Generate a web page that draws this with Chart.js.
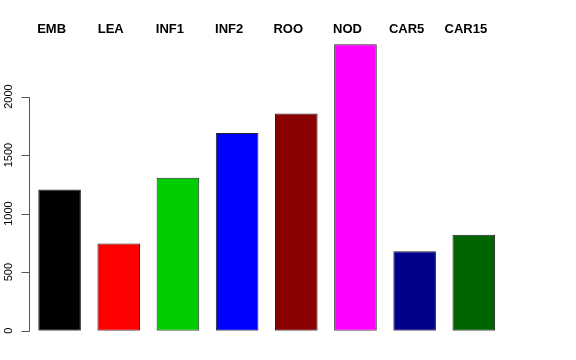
<!DOCTYPE html>
<html>
<head>
<meta charset="utf-8">
<script src="https://cdn.jsdelivr.net/npm/chart.js@4/dist/chart.umd.min.js"></script>
<style>
  html, body { margin: 0; padding: 0; background: #ffffff; }
  #wrap { width: 576px; height: 360px; position: relative; }
</style>
</head>
<body>
<div id="wrap"><canvas id="c" width="576" height="360"></canvas></div>
<script>
const categories = ["EMB", "LEA", "INF1", "INF2", "ROO", "NOD", "CAR5", "CAR15"];
const values = [1206, 744, 1306, 1689, 1855, 2446, 678, 820];
const barColors = ["#000000", "#FF0000", "#00CD00", "#0000FF", "#8B0000", "#FF00FF", "#00008B", "#006400"];
const yTicks = [0, 500, 1000, 1500, 2000];

const rAxisPlugin = {
  id: 'rAxis',
  afterDraw(chart) {
    const ctx = chart.ctx;
    const ys = chart.scales.y;
    const area = chart.chartArea;
    const ax = Math.round(area.left - 1.5) + 0.5;
    ctx.save();
    ctx.strokeStyle = '#555555';
    ctx.lineWidth = 1;
    ctx.beginPath();
    const yTop = Math.round(ys.getPixelForValue(yTicks[yTicks.length - 1])) + 0.5;
    const yBot = Math.round(ys.getPixelForValue(yTicks[0])) + 0.5;
    ctx.moveTo(ax, yBot);
    ctx.lineTo(ax, yTop);
    yTicks.forEach(v => {
      const py = Math.round(ys.getPixelForValue(v)) + 0.5;
      ctx.moveTo(ax, py);
      ctx.lineTo(ax - 8, py);
    });
    ctx.stroke();
    ctx.fillStyle = '#000000';
    ctx.font = '11px "Liberation Sans", Arial, sans-serif';
    ctx.textAlign = 'center';
    ctx.textBaseline = 'alphabetic';
    yTicks.forEach(v => {
      const py = ys.getPixelForValue(v);
      ctx.save();
      ctx.translate(11.7, py);
      ctx.rotate(-Math.PI / 2);
      ctx.fillText(String(v), 0, 0);
      ctx.restore();
    });
    ctx.restore();
  }
};

new Chart(document.getElementById('c'), {
  type: 'bar',
  data: {
    labels: categories,
    datasets: [{
      data: values,
      backgroundColor: barColors,
      borderColor: '#222222',
      borderWidth: 1,
      borderSkipped: false,
      barPercentage: 0.72,
      categoryPercentage: 1.0
    }]
  },
  options: {
    responsive: false,
    animation: false,
    devicePixelRatio: 1,
    layout: { padding: { left: 30, right: 72.6, top: 20.4, bottom: 29.3 } },
    plugins: { legend: { display: false }, tooltip: { enabled: false }, title: { display: false } },
    scales: {
      x: {
        position: 'top',
        offset: true,
        grid: { display: false, drawTicks: false },
        border: { display: false },
        ticks: {
          color: '#000000',
          font: { family: '"Liberation Sans", Arial, sans-serif', size: 13, weight: 'bold' },
          padding: 1,
          labelOffset: -8,
          maxRotation: 0,
          minRotation: 0,
          autoSkip: false
        }
      },
      y: {
        display: false,
        min: 0,
        max: 2500
      }
    }
  },
  plugins: [rAxisPlugin]
});
</script>
</body>
</html>
